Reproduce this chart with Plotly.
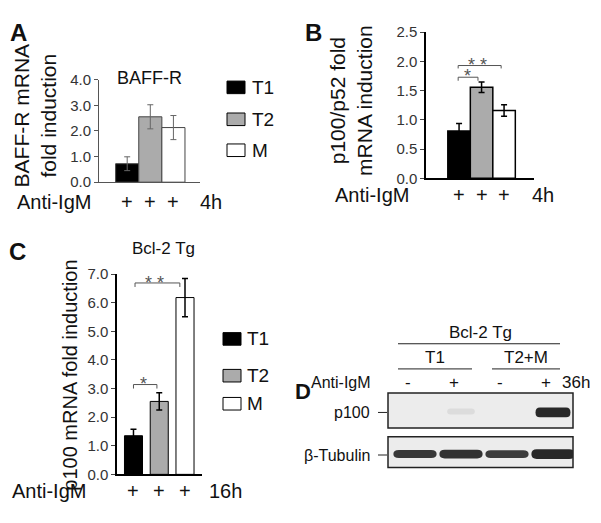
import plotly.graph_objects as go

W, H = 601, 523
FONT = "Arial, Liberation Sans, sans-serif"

groups = ["T1", "T2", "M"]
colors = ["#000000", "#ababab", "#ffffff"]

# A: BAFF-R mRNA, anti-IgM 4h
baffr = [0.72, 2.55, 2.13]
baffr_err = [0.27, 0.47, 0.47]

# B: p100/p52 mRNA, anti-IgM 4h
p52 = [0.81, 1.56, 1.16]
p52_err = [0.13, 0.09, 0.10]

# C: p100 mRNA, Bcl-2 Tg, anti-IgM 16h
p100 = [1.35, 2.55, 6.18]
p100_err = [0.23, 0.30, 0.67]

# D: western blot, Bcl-2 Tg, 36h
lane_groups = ["T1", "T2+M"]
anti_igm = ["-", "+", "-", "+"]
p100_band = [0.0, 0.08, 0.0, 1.0]
tubulin_band = [0.92, 0.95, 0.9, 1.0]


def X(px):
    return px / W


def Y(py):
    return 1 - py / H


fig = go.Figure()
idx = list(range(3))

fig.add_trace(go.Bar(x=idx, y=baffr, width=1, marker=dict(color=colors, line=dict(color="#444", width=1)),
                     error_y=dict(type="data", array=baffr_err, color="#666", thickness=1, width=3),
                     xaxis="x", yaxis="y"))
fig.add_trace(go.Bar(x=idx, y=p52, width=1, marker=dict(color=colors, line=dict(color="#000", width=1.5)),
                     error_y=dict(type="data", array=p52_err, color="#000", thickness=1.5, width=3),
                     xaxis="x2", yaxis="y2"))
fig.add_trace(go.Bar(x=idx, y=p100, width=0.7, marker=dict(color=colors, line=dict(color="#000", width=1)),
                     error_y=dict(type="data", array=p100_err, color="#000", thickness=1.5, width=3),
                     xaxis="x3", yaxis="y3"))
fig.add_trace(go.Scatter(x=list(range(4)), y=p100_band, mode="none", hoverinfo="skip",
                         xaxis="x4", yaxis="y4"))

ax = dict(showgrid=False, zeroline=False, showline=True, fixedrange=True)
xa = dict(ax, showticklabels=False, ticks="")
ya = dict(ax, ticks="outside", ticklen=4, tickfont=dict(size=15, color="#333"))

fig.update_layout(
    width=W, height=H, margin=dict(l=0, r=0, t=0, b=0),
    paper_bgcolor="white", plot_bgcolor="white", showlegend=False,
    font=dict(family=FONT, color="#111"),
    xaxis=dict(xa, domain=[X(99), X(200)], range=[-1.22, 3.15], anchor="y", linecolor="#555", linewidth=1),
    yaxis=dict(ya, domain=[Y(179), Y(73)], range=[0, 4], anchor="x", linecolor="#555", tickcolor="#555",
               tickvals=[0, 1, 2, 3, 4], ticktext=["0.0", "1.0", "2.0", "3.0", "4.0"]),
    xaxis2=dict(xa, domain=[X(426), X(534)], range=[-1.47, 3.33], anchor="y2", linecolor="#000", linewidth=1.5),
    yaxis2=dict(ya, domain=[Y(175), Y(24)], range=[0, 2.5], anchor="x2", linecolor="#000", linewidth=1.5,
                tickvals=[0, 0.5, 1, 1.5, 2, 2.5], ticktext=["0.0", "0.5", "1.0", "1.5", "2.0", "2.5"]),
    xaxis3=dict(xa, domain=[X(117), X(202)], range=[-0.64, 2.66], anchor="y3", linecolor="#000", linewidth=1.5),
    yaxis3=dict(ya, domain=[Y(481), Y(274)], range=[0, 7], anchor="x3", linecolor="#000", linewidth=1.5,
                tickvals=list(range(8)), ticktext=["%d.0" % v for v in range(8)]),
    xaxis4=dict(domain=[X(388), X(573)], range=[-0.587, 3.435], visible=False, fixedrange=True),
    yaxis4=dict(domain=[Y(474), Y(397)], range=[0, 1], visible=False, fixedrange=True, anchor="x4"),
)

ann = []
shapes = []


def text(x, y, s, size, xref="paper", yref="paper", xanchor="center", angle=0, bold=False, color="#111", yshift=0):
    if xref == "paper":
        x = X(x)
    if yref == "paper":
        y = Y(y)
    ann.append(dict(x=x, y=y, xref=xref, yref=yref, text="<b>%s</b>" % s if bold else s, showarrow=False,
                    xanchor=xanchor, yanchor="middle", textangle=angle, yshift=yshift,
                    font=dict(size=size, color=color, family=FONT)))


# panel letters
text(18, 24, "A", 24, bold=True)
text(313, 24, "B", 24, bold=True)
text(17, 251, "C", 24, bold=True)
text(303, 395, "D", 22, bold=True)

# axis titles
text(35, 110, "BAFF-R mRNA<br>fold induction", 21, angle=-90)
text(351, 95, "p100/p52 fold<br>mRNA induction", 21, angle=-90)
text(70, 379, "p100 mRNA fold induction", 20, angle=-90)
text(149, 71, "BAFF-R", 18)
text(163, 248, "Bcl-2 Tg", 17)

# treatment rows
for xr, left, yy, tail, tail_x in [("x", 15, 200, "4h", 198), ("x2", 333, 192, "4h", 530), ("x3", 10, 498, "16h", 207)]:
    text(left, yy, "Anti-IgM", 20, xanchor="left")
    for i in idx:
        ann.append(dict(x=i, y=Y(yy), xref=xr, yref="paper", text="+", showarrow=False, yanchor="middle",
                        font=dict(size=20, color="#111", family=FONT)))
    text(tail_x, yy, tail, 20, xanchor="left")

# legends
for (sx, tx, rows) in [(227, 250, [81, 114, 146]), (223, 245, [341, 379, 408])]:
    for g, c, yy in zip(groups, colors, rows):
        shapes.append(dict(type="rect", xref="paper", yref="paper", x0=X(sx), x1=X(sx + 18),
                           y0=Y(yy + 6.5), y1=Y(yy - 6.5), fillcolor=c, line=dict(color="#000", width=1)))
        text(tx, yy, g, 19, xanchor="left")


# significance brackets
def bracket(xr, yr, x0, x1, y, drop, stars, sx, sy):
    shapes.append(dict(type="path", xref=xr, yref=yr,
                       path="M %f,%f L %f,%f L %f,%f L %f,%f" % (x0, y - drop, x0, y, x1, y, x1, y - drop),
                       line=dict(color="#555", width=1)))
    ann.append(dict(x=sx, y=sy, xref=xr, yref=yr, text=stars, showarrow=False, yanchor="middle", yshift=-5,
                    font=dict(size=18, color="#555", family=FONT)))


bracket("x2", "y2", -0.04, 0.84, 1.73, 0.06, "*", 0.36, 1.83)
bracket("x2", "y2", -0.04, 1.87, 1.93, 0.05, "* *", 0.84, 2.02)
bracket("x3", "y3", 0.0, 0.91, 3.14, 0.14, "*", 0.4, 3.34)
bracket("x3", "y3", 0.06, 1.8, 6.69, 0.14, "* *", 0.83, 6.86)

# panel D: blot
text(480, 334, "Bcl-2 Tg", 17)
shapes.append(dict(type="line", xref="paper", yref="paper", x0=X(398), x1=X(560), y0=Y(346), y1=Y(346),
                   line=dict(color="#222", width=1)))
for g, (a, b) in zip(lane_groups, [(398, 472), (492, 560)]):
    text((a + b) / 2, 360, g, 17)
    shapes.append(dict(type="line", xref="paper", yref="paper", x0=X(a), x1=X(b), y0=Y(372), y1=Y(372),
                       line=dict(color="#222", width=1)))
text(373, 386, "Anti-IgM", 16, xanchor="right")
for i, s in enumerate(anti_igm):
    ann.append(dict(x=i, y=Y(386), xref="x4", yref="paper", text=s, showarrow=False, yanchor="middle", xshift=-7,
                    font=dict(size=17, color="#111", family=FONT)))
text(592, 386, "36h", 17, xanchor="right")

for top, bot, label, ly in [(397, 433, "p100", 417), (442, 474, "β-Tubulin", 461)]:
    shapes.append(dict(type="rect", xref="paper", yref="paper", x0=X(388), x1=X(573), y0=Y(bot), y1=Y(top),
                       fillcolor="#ececec", line=dict(color="#222", width=1.5), layer="below"))
    text(372, ly, label, 16, xanchor="right")
    shapes.append(dict(type="line", xref="paper", yref="paper", x0=X(378), x1=X(387), y0=Y(ly), y1=Y(ly),
                       line=dict(color="#222", width=1)))


def band_color(v):
    lo, hi = 236, 40
    g = int(round(lo + (hi - lo) * v))
    return "rgb(%d,%d,%d)" % (g, g, g)


def band(i, v, cy, h, half):
    if v <= 0:
        return
    x0, x1 = i - half, i + half
    r = half * 0.25
    y0, y1 = Y(cy + h / 2), Y(cy - h / 2)
    ym = Y(cy)
    path = ("M %f,%f L %f,%f Q %f,%f %f,%f Q %f,%f %f,%f L %f,%f Q %f,%f %f,%f Q %f,%f %f,%f Z" %
            (x0 + r, y1, x1 - r, y1, x1, y1, x1, ym, x1, y0, x1 - r, y0, x0 + r, y0, x0, y0, x0, ym, x0, y1, x0 + r, y1))
    shapes.append(dict(type="path", xref="x4", yref="paper", path=path, fillcolor=band_color(v),
                       line=dict(width=0)))


for i, v in enumerate(p100_band):
    band(i, v, 417 if v > 0.5 else 416, 10 * max(v, 0.6), 0.38 if v > 0.5 else 0.3)
for i, v in enumerate(tubulin_band):
    band(i, v, 460, 8 + 5 * (v - 0.9) * 10 / 2.5, 0.47)

fig.update_layout(annotations=ann, shapes=shapes)
fig.write_html("out.html", config={"displayModeBar": False},
               post_script="document.body.style.margin='0px';document.body.style.overflow='hidden';")
